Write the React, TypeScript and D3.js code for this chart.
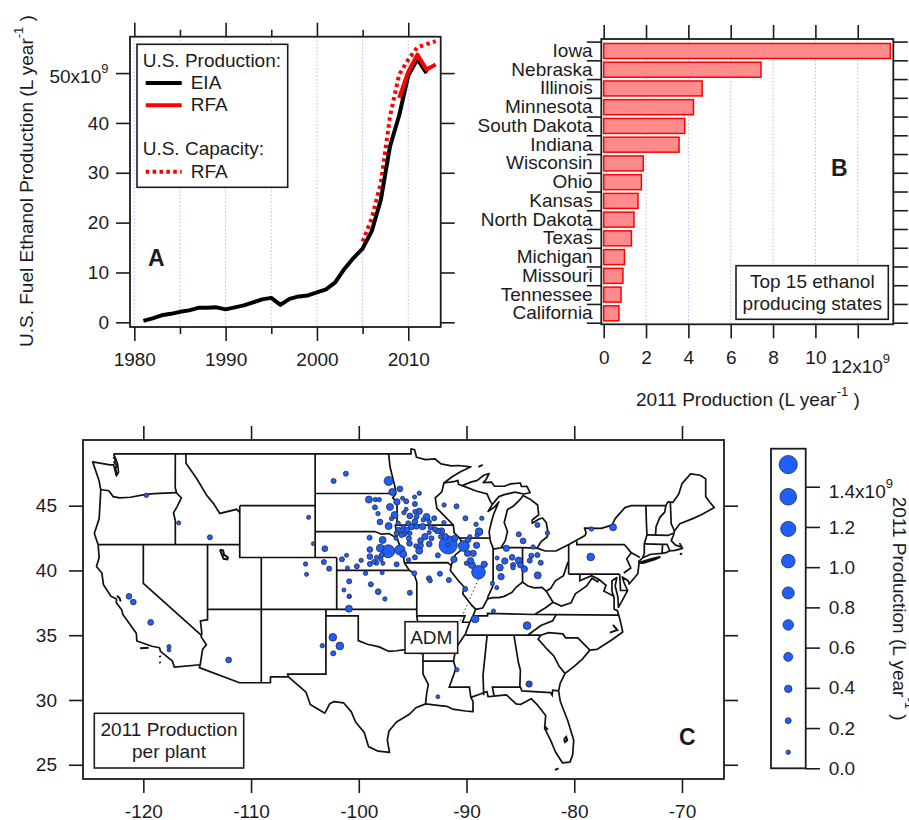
import React, { useEffect, useRef } from "react";
import * as d3 from "d3";

type Pt = [number, number];

// Panel A: U.S. production and capacity, 1e9 L per year
const eiaYears = [1981, 1982, 1983, 1984, 1985, 1986, 1987, 1988, 1989, 1990, 1991, 1992, 1993, 1994, 1995, 1996, 1997, 1998, 1999, 2000, 2001, 2002, 2003, 2004, 2005, 2006, 2007, 2008, 2009, 2010, 2011, 2012];
const eiaValues = [0.3, 0.8, 1.4, 1.7, 2.1, 2.4, 2.9, 2.9, 3.0, 2.6, 3.0, 3.4, 4.0, 4.6, 4.9, 3.5, 4.7, 5.2, 5.4, 6.0, 6.6, 8.0, 10.7, 12.9, 14.8, 18.3, 24.6, 35.3, 41.5, 49.5, 52.8, 50.0];
const rfaYears = [2009, 2010, 2011, 2012, 2013];
const rfaValues = [45.0, 50.3, 53.7, 50.7, 51.7];
const capacityYears = [2005, 2006, 2007, 2008, 2009, 2010, 2011, 2012, 2013];
const capacityValues = [16.2, 20.9, 28.0, 41.3, 49.7, 52.7, 55.2, 55.8, 56.4];

// Panel B: top 15 states, 1e9 L
const states = ["Iowa", "Nebraska", "Illinois", "Minnesota", "South Dakota", "Indiana", "Wisconsin", "Ohio", "Kansas", "North Dakota", "Texas", "Michigan", "Missouri", "Tennessee", "California"];
const stateValues = [13.54, 7.43, 4.65, 4.24, 3.83, 3.56, 1.87, 1.78, 1.62, 1.43, 1.31, 0.98, 0.91, 0.82, 0.72];

// Panel C: size legend, 1e9 L
const legendValues = [0.08, 0.237, 0.395, 0.554, 0.713, 0.872, 1.03, 1.19, 1.35, 1.51];

// Plants: lon, lat, production (1e9 L)
const plants: [number, number, number][] = [
  [-119.72, 45.8, 0.08], [-116.72, 43.67, 0.05], [-113.82, 42.56, 0.15], [-121.33, 38.0, 0.22], [-120.93, 37.56, 0.22],
  [-119.32, 35.99, 0.22], [-117.62, 34.12, 0.05], [-117.62, 33.86, 0.02], [-112.08, 33.09, 0.22], [-104.66, 44.1, 0.05],
  [-104.23, 42.07, 0.02], [-103.15, 41.68, 0.22], [-104.94, 40.5, 0.08], [-104.85, 39.7, 0.05], [-103.24, 40.65, 0.15],
  [-102.75, 40.14, 0.15], [-102.41, 34.84, 0.42], [-101.76, 34.17, 0.42], [-102.37, 33.6, 0.15], [-103.39, 34.19, 0.08],
  [-101.2, 47.47, 0.15], [-102.34, 46.91, 0.15], [-101.57, 40.86, 0.15], [-101.14, 41.17, 0.05], [-99.78, 40.78, 0.08],
  [-101.05, 40.19, 0.05], [-100.18, 40.32, 0.15], [-100.89, 39.16, 0.15], [-101.38, 38.49, 0.05], [-100.89, 38.0, 0.08],
  [-100.89, 38.0, 0.02], [-100.92, 37.05, 0.35], [-98.88, 38.93, 0.15], [-98.2, 38.36, 0.22], [-97.58, 37.8, 0.08],
  [-99.37, 39.78, 0.08], [-97.83, 39.83, 0.05],
  [-97.23, 46.91, 0.56], [-96.89, 46.06, 0.35], [-96.18, 46.29, 0.22], [-99.06, 45.47, 0.35], [-98.47, 45.47, 0.08],
  [-98.1, 45.47, 0.08], [-96.46, 45.29, 0.28], [-97.11, 44.9, 0.35], [-95.94, 45.57, 0.05], [-95.6, 45.34, 0.15],
  [-94.82, 45.67, 0.05], [-94.39, 45.96, 0.08], [-94.79, 45.13, 0.15], [-98.5, 44.87, 0.15], [-98.22, 44.39, 0.08],
  [-96.68, 44.28, 0.35], [-96.96, 44.0, 0.08], [-98.04, 43.74, 0.22], [-95.6, 44.72, 0.05], [-95.81, 44.46, 0.08],
  [-94.79, 44.54, 0.08], [-94.39, 44.57, 0.28], [-95.26, 44.21, 0.22], [-93.71, 44.13, 0.35], [-94.64, 44.15, 0.15],
  [-93.0, 44.03, 0.15], [-92.1, 43.69, 0.08], [-97.23, 43.43, 0.35], [-96.34, 43.64, 0.08], [-95.41, 43.64, 0.15],
  [-94.79, 43.77, 0.22], [-94.02, 43.9, 0.08], [-93.46, 43.77, 0.08], [-95.87, 43.33, 0.08], [-95.1, 43.38, 0.28],
  [-94.64, 43.38, 0.15], [-94.08, 43.38, 0.28], [-93.34, 43.33, 0.15], [-92.94, 43.18, 0.15], [-92.69, 43.05, 0.22],
  [-92.32, 43.05, 0.28], [-95.56, 43.12, 0.22], [-96.31, 43.12, 0.22], [-96.49, 42.87, 0.15], [-95.78, 42.87, 0.28],
  [-96.03, 42.74, 0.15], [-95.26, 42.87, 0.08], [-95.35, 42.48, 0.15], [-95.29, 42.09, 0.22], [-96.55, 42.48, 0.05],
  [-97.79, 42.35, 0.35], [-99.0, 42.53, 0.15], [-93.86, 42.61, 0.28], [-93.25, 42.48, 0.15], [-93.46, 42.92, 0.05],
  [-94.27, 42.3, 0.22], [-93.46, 42.04, 0.22], [-94.7, 41.89, 0.08], [-94.27, 41.94, 0.22], [-94.39, 41.53, 0.35],
  [-94.79, 41.01, 0.15], [-92.41, 42.61, 0.08], [-91.98, 42.61, 0.28], [-91.7, 41.97, 1.51], [-91.7, 41.97, 0.05],
  [-91.08, 42.48, 0.28], [-90.25, 41.89, 0.76], [-89.69, 42.61, 0.05], [-89.84, 42.38, 0.22], [-89.07, 41.94, 0.28],
  [-89.38, 41.32, 0.28], [-89.91, 41.32, 0.28], [-89.63, 40.76, 0.28], [-90.0, 40.55, 0.08], [-89.5, 40.42, 0.35],
  [-88.89, 39.86, 1.03], [-88.36, 40.47, 0.28], [-91.17, 40.86, 0.28], [-92.66, 41.17, 0.15], [-95.38, 40.81, 0.08],
  [-96.18, 41.58, 0.69], [-95.87, 41.25, 0.35], [-97.27, 41.48, 0.97], [-98.01, 41.73, 0.42], [-98.97, 41.61, 0.22],
  [-97.88, 41.19, 0.15], [-98.97, 41.07, 0.22], [-98.35, 41.01, 0.08], [-98.6, 40.68, 0.08], [-97.95, 40.86, 0.08],
  [-98.97, 40.5, 0.15], [-98.38, 40.6, 0.15], [-97.76, 40.55, 0.05], [-96.49, 40.47, 0.15], [-94.85, 39.78, 0.15],
  [-95.26, 38.28, 0.15], [-93.49, 39.39, 0.15], [-93.37, 39.21, 0.08], [-92.47, 39.75, 0.15], [-91.64, 39.26, 0.15],
  [-90.12, 38.57, 0.15],
  [-89.2, 36.25, 0.42], [-87.5, 36.87, 0.05], [-84.38, 35.74, 0.42], [-90.9, 32.34, 0.08], [-92.66, 30.25, 0.02],
  [-84.19, 31.23, 0.28], [-84.25, 31.26, 0.05], [-78.47, 41.04, 0.42], [-78.41, 43.2, 0.08], [-76.4, 43.33, 0.35],
  [-85.15, 42.79, 0.15], [-84.75, 42.28, 0.22], [-83.42, 43.51, 0.15], [-82.49, 42.89, 0.08], [-83.82, 41.81, 0.08],
  [-86.3, 41.71, 0.28], [-87.16, 40.96, 0.05], [-86.45, 40.73, 0.28], [-85.77, 41.01, 0.22], [-85.15, 40.76, 0.35],
  [-85.68, 40.42, 0.15], [-85.68, 40.21, 0.08], [-85.0, 40.42, 0.22], [-84.63, 40.11, 0.28], [-86.91, 40.22, 0.35],
  [-86.79, 39.52, 0.28], [-87.59, 39.0, 0.08], [-87.19, 38.67, 0.05], [-84.13, 40.76, 0.15], [-83.98, 41.14, 0.15],
  [-83.42, 41.19, 0.15], [-83.11, 40.6, 0.15], [-83.39, 39.62, 0.35], [-90.93, 44.95, 0.15], [-92.08, 45.05, 0.08],
  [-90.1, 44.03, 0.15], [-88.58, 44.03, 0.08], [-89.11, 43.56, 0.08], [-88.83, 42.99, 0.42], [-89.02, 42.69, 0.08],
];

// Country outline, lon/lat, clockwise from the Washington border
const usOutline: Pt[] = [
  [-122.76, 49], [-95.15, 49], [-95.15, 49.38], [-94.82, 49.32], [-94.64, 48.74], [-93.8, 48.55], [-92.95, 48.62], [-92.37, 48.23], [-91.4, 48.07], [-90.75, 48.1], [-89.6, 48.0],
  [-90.6, 47.6], [-91.3, 47.25], [-92.1, 46.75], [-91.2, 46.85], [-90.8, 46.95], [-90.75, 46.65], [-90.4, 46.55], [-89.6, 46.82], [-89.0, 46.95], [-88.4, 47.35], [-87.9, 47.47], [-88.2, 47.0], [-88.45, 46.78], [-87.7, 46.82], [-87.4, 46.5], [-86.5, 46.5], [-85.9, 46.68], [-85.0, 46.75], [-84.9, 46.48], [-84.4, 46.5], [-84.1, 46.0], [-84.7, 45.9],
  [-85.5, 46.05], [-86.0, 45.95], [-86.5, 45.85], [-87.0, 45.7], [-87.6, 45.1], [-88.0, 44.55], [-87.4, 44.9], [-87.0, 45.3], [-87.5, 44.3], [-87.7, 43.7], [-87.9, 43.0], [-87.8, 42.3], [-87.5, 41.65], [-86.8, 41.75], [-86.4, 42.3], [-86.2, 43.0], [-86.5, 43.7], [-86.2, 44.7], [-85.6, 45.0], [-85.0, 45.5], [-84.75, 45.78],
  [-84.1, 45.5], [-83.4, 45.05], [-83.3, 44.3], [-83.9, 43.9], [-83.9, 43.65], [-83.3, 43.95], [-82.95, 44.05], [-82.6, 43.7], [-82.45, 43.0], [-82.5, 42.6], [-83.1, 42.2], [-83.45, 41.72], [-82.7, 41.5], [-81.7, 41.5], [-80.5, 42.0], [-79.0, 42.7], [-78.9, 42.9], [-79.05, 43.27], [-77.5, 43.25], [-76.5, 43.5], [-76.2, 44.0], [-75.3, 44.85], [-74.7, 45.0],
  [-71.5, 45.0], [-71.3, 45.3], [-70.85, 45.25], [-70.3, 45.9], [-70.0, 46.7], [-69.2, 47.45], [-68.3, 47.35], [-67.8, 47.07], [-67.8, 45.7], [-67.45, 45.3], [-67.0, 44.85], [-68.2, 44.3], [-69.0, 44.0], [-70.2, 43.6], [-70.7, 43.05], [-70.8, 42.7], [-71.0, 42.3], [-70.6, 41.95], [-70.0, 41.8], [-70.2, 42.07], [-69.95, 41.7], [-70.65, 41.55], [-71.2, 41.5], [-71.4, 41.4], [-71.85, 41.32], [-72.9, 41.25], [-73.65, 40.98], [-74.0, 40.7],
  [-74.0, 40.45], [-74.1, 39.75], [-74.9, 38.95], [-75.0, 39.2], [-75.55, 39.5], [-75.4, 39.1], [-75.05, 38.45], [-75.4, 37.9], [-75.9, 37.15], [-75.95, 37.95], [-76.2, 38.8], [-76.05, 39.45], [-76.5, 39.2], [-76.5, 38.4], [-76.3, 37.9], [-76.3, 37.0], [-76.0, 36.9], [-75.75, 36.2], [-75.5, 35.25], [-76.5, 34.65], [-77.9, 33.9], [-78.55, 33.85], [-79.2, 33.2], [-80.0, 32.6], [-80.85, 32.05], [-81.3, 31.3], [-81.45, 30.7], [-81.3, 29.9], [-80.6, 28.4], [-80.05, 26.9], [-80.15, 25.75], [-80.4, 25.2], [-81.1, 25.15], [-81.75, 26.0], [-82.2, 26.9], [-82.75, 27.8], [-82.65, 28.8], [-83.4, 29.6], [-84.0, 30.1], [-85.0, 29.65], [-85.4, 29.7], [-86.3, 30.4], [-87.5, 30.3], [-88.0, 30.25], [-88.1, 30.65], [-88.9, 30.4], [-89.6, 30.2], [-89.4, 29.9], [-89.4, 29.1], [-90.1, 29.15], [-91.3, 29.3], [-91.8, 29.5], [-92.3, 29.55], [-93.8, 29.7], [-94.7, 29.4], [-95.3, 28.9], [-96.5, 28.3], [-97.2, 27.6], [-97.35, 26.9], [-97.15, 25.95],
  [-98.2, 26.05], [-99.1, 26.4], [-99.5, 27.5], [-100.3, 28.3], [-100.7, 29.1], [-101.4, 29.77], [-102.3, 29.88], [-102.7, 29.7], [-103.15, 28.98], [-104.5, 29.65], [-104.9, 30.6], [-106.53, 31.78], [-108.2, 31.78], [-108.2, 31.33], [-111.07, 31.33], [-114.8, 32.5], [-114.72, 32.72], [-117.12, 32.53],
  [-117.3, 33.0], [-118.4, 33.75], [-118.5, 34.03], [-119.2, 34.15], [-120.6, 34.55], [-120.65, 35.15], [-121.9, 36.6], [-122.0, 36.95], [-122.5, 37.5], [-122.5, 37.8], [-123.0, 38.0], [-123.7, 38.9], [-123.85, 39.8], [-124.35, 40.3], [-124.1, 41.0], [-124.2, 42.0], [-124.55, 42.85], [-124.1, 44.0], [-123.95, 46.2], [-124.1, 46.9], [-124.7, 48.38], [-123.1, 48.15], [-122.75, 48.15], [-122.5, 47.3], [-122.3, 47.6], [-122.4, 48.25], [-122.76, 49],
];

const stateBorders: Pt[][] = [
  // Northwest
  [[-124.0, 46.25], [-123.2, 46.15], [-122.8, 45.7], [-122.2, 45.6], [-121.2, 45.65], [-119.9, 45.85], [-119.0, 45.93], [-116.92, 46.0]],
  [[-117.03, 49], [-117.04, 46.4], [-116.92, 46.0], [-116.47, 45.6], [-116.85, 44.95], [-117.2, 44.45], [-117.03, 43.85], [-117.03, 42]],
  [[-124.2, 42], [-111.05, 42]],
  [[-120, 42], [-120, 39], [-114.63, 35]],
  [[-114.04, 42], [-114.04, 36.2], [-114.7, 36.1], [-114.57, 35.15], [-114.63, 34.87], [-114.15, 34.27], [-114.5, 33.9], [-114.72, 32.72]],
  [[-114.04, 37], [-94.62, 37]],
  [[-109.05, 41], [-109.05, 31.33]],
  [[-111.05, 45], [-104.05, 45]],
  [[-111.05, 45], [-111.05, 41], [-102.05, 41]],
  [[-116.05, 49], [-116.04, 48.27], [-115.05, 47.1], [-114.12, 45.8], [-113.5, 45.18], [-112.9, 44.4], [-111.34, 44.72], [-111.05, 44.48]],
  [[-104.05, 49], [-104.05, 41]],
  // Plains
  [[-104.05, 45.94], [-96.56, 45.94]],
  [[-104.05, 43], [-98.5, 43], [-97.9, 42.8], [-97.2, 42.85], [-96.45, 42.49], [-96.1, 41.7], [-95.87, 41.2], [-95.77, 40.58], [-95.3, 40], [-94.9, 39.8], [-94.61, 39.1], [-94.62, 36.5]],
  [[-102.05, 41], [-102.05, 37]],
  [[-102.05, 40], [-95.3, 40]],
  [[-95.77, 40.58], [-91.73, 40.6], [-91.42, 40.38]],
  [[-97.23, 49], [-97.1, 48], [-96.6, 46.3], [-96.56, 45.94], [-96.85, 45.6], [-96.45, 45.3], [-96.45, 43.5], [-96.6, 43.5], [-96.45, 42.49]],
  [[-96.45, 43.5], [-91.22, 43.5]],
  // Mississippi river
  [[-92.1, 46.75], [-92.29, 46.07], [-92.9, 45.6], [-92.75, 44.8], [-91.22, 43.5], [-91.15, 42.9], [-90.65, 42.5], [-90.15, 41.8], [-91.05, 41.2], [-91.42, 40.38], [-91.5, 40.0], [-90.75, 39.2], [-90.2, 38.7], [-90.35, 38.2], [-89.5, 37.3], [-89.15, 37.0], [-89.4, 36.5], [-89.7, 36.0], [-90.1, 35.1], [-91.0, 34.0], [-91.2, 33.0], [-91.0, 32.4], [-91.6, 31.0], [-89.73, 31.0], [-89.6, 30.2]],
  // South central
  [[-94.62, 36.5], [-90.15, 36.5], [-90.37, 36.0], [-89.7, 36.0]],
  [[-94.62, 36.5], [-94.43, 35.4], [-94.48, 33.64], [-94.04, 33.55], [-94.04, 33.0], [-91.2, 33.0]],
  [[-94.04, 33.0], [-94.04, 32], [-93.55, 31.2], [-93.7, 30.5], [-93.8, 29.7]],
  [[-103.05, 37], [-103.05, 32], [-106.6, 32], [-106.53, 31.78]],
  [[-103.05, 36.5], [-100.05, 36.5], [-100.05, 34.58], [-99.2, 34.3], [-98.1, 34.1], [-97.2, 33.75], [-96.5, 33.8], [-95.5, 33.9], [-94.48, 33.64]],
  // Great Lakes and Ohio river
  [[-87.53, 41.7], [-87.53, 39.3], [-87.6, 38.7], [-88.0, 38.0], [-88.05, 37.8]],
  [[-89.15, 37.0], [-88.5, 37.1], [-88.05, 37.8], [-87.6, 37.9], [-87.0, 37.9], [-86.5, 38.0], [-85.8, 38.3], [-85.4, 38.7], [-84.8, 39.1], [-84.3, 38.8], [-83.7, 38.65], [-83.0, 38.7], [-82.6, 38.4], [-82.2, 38.6], [-81.75, 39.2], [-81.0, 39.6], [-80.6, 40.6], [-80.52, 40.64]],
  [[-84.8, 39.1], [-84.8, 41.76]],
  [[-86.8, 41.76], [-84.8, 41.76], [-83.45, 41.72]],
  [[-80.52, 39.72], [-80.52, 42.0]],
  [[-80.52, 39.72], [-75.79, 39.72]],
  [[-79.76, 42.25], [-79.76, 42.0], [-75.35, 42.0], [-74.7, 41.36], [-75.13, 40.9], [-74.75, 40.2], [-75.4, 39.8]],
  [[-74.7, 41.36], [-73.9, 41.0]],
  [[-90.65, 42.5], [-87.8, 42.5]],
  [[-90.4, 46.55], [-89.1, 46.13], [-88.1, 45.9], [-87.8, 45.35], [-87.6, 45.1]],
  // Southeast
  [[-89.4, 36.5], [-88.05, 36.5], [-88.05, 36.68], [-83.68, 36.6], [-81.68, 36.59], [-75.9, 36.55]],
  [[-90.1, 35], [-84.32, 35], [-83.1, 35.0], [-82.4, 35.2], [-81.05, 35.1], [-80.8, 34.8], [-79.67, 34.8], [-78.55, 33.85]],
  [[-81.68, 36.59], [-82.0, 36.12], [-83.1, 35.75], [-84.32, 35]],
  [[-82.6, 38.4], [-81.97, 37.54]],
  [[-83.68, 36.6], [-82.7, 37.1], [-81.97, 37.54], [-81.2, 37.25], [-80.3, 37.5], [-79.9, 38.2], [-79.2, 38.6], [-78.85, 38.8], [-78.35, 39.4], [-77.83, 39.13], [-77.72, 39.32]],
  [[-79.48, 39.72], [-79.48, 39.2], [-78.4, 39.6], [-77.72, 39.32], [-77.05, 38.85], [-77.25, 38.4], [-76.3, 38.0]],
  [[-75.79, 39.72], [-75.7, 38.46], [-75.05, 38.45]],
  [[-88.2, 35.0], [-88.1, 34.9], [-88.47, 31.9], [-88.4, 30.37]],
  [[-85.6, 35], [-85.18, 32.87], [-85.0, 32.3], [-85.05, 31.0]],
  [[-87.45, 30.35], [-87.6, 31.0], [-85.0, 31.0], [-84.86, 30.7], [-82.2, 30.57], [-82.05, 30.37], [-82.0, 30.75], [-81.45, 30.7]],
  [[-83.1, 35.0], [-83.35, 34.7], [-82.5, 33.9], [-81.9, 33.4], [-81.4, 32.6], [-80.85, 32.05]],
  // New England
  [[-73.35, 45], [-73.3, 43.6], [-73.25, 42.75], [-73.5, 42.05], [-73.5, 41.3], [-73.65, 41.0]],
  [[-73.5, 42.05], [-71.8, 42.02], [-71.38, 42.02], [-71.12, 41.5]],
  [[-73.25, 42.75], [-71.3, 42.7], [-70.8, 42.87]],
  [[-71.5, 45.0], [-71.6, 44.5], [-72.05, 44.1], [-72.4, 43.4], [-72.46, 42.73]],
  [[-71.08, 45.3], [-71.0, 43.6], [-70.7, 43.05]],
  [[-71.8, 42.02], [-71.85, 41.32]],
];

const islands: Pt[][] = [
  [[-112.9, 41.6], [-112.6, 41.55], [-112.5, 41.2], [-112.15, 41.0], [-112.2, 40.85], [-112.55, 40.9], [-112.7, 41.2], [-112.9, 41.6]],
  [[-122.8, 48.75], [-122.55, 48.55], [-122.7, 48.35], [-122.45, 48.1], [-122.6, 47.85], [-122.45, 47.45]],
  [[-122.45, 38.05], [-122.2, 37.85], [-122.1, 37.6]],
  [[-120.3, 34.0], [-119.5, 34.03]],
  [[-118.5, 33.4], [-118.4, 33.3]],
  [[-118.5, 32.95], [-118.4, 32.85]],
  [[-74.0, 40.6], [-73.0, 40.85], [-72.0, 41.05], [-72.5, 40.85], [-73.6, 40.58], [-74.0, 40.6]],
  [[-80.95, 26.95], [-80.75, 27.15], [-80.65, 26.9], [-80.85, 26.75], [-80.95, 26.95]],
  [[-81.8, 24.6], [-81.45, 24.72]],
  [[-88.9, 48.0], [-88.5, 48.15]],
  [[-70.2, 41.27], [-69.98, 41.28]],
  [[-82.7, 27.95], [-82.45, 27.7]],
  [[-76.4, 35.8], [-76.0, 35.4], [-76.7, 35.2]],
];

const INK = "#1c1c1c";
const FONT = "'Liberation Sans', Arial, sans-serif";
const GRID = "#b4b4ff";

const App = () => {
  const svgRef = useRef<SVGSVGElement | null>(null);

  useEffect(() => {
    if (!svgRef.current) return;
    const svg = d3.select(svgRef.current);
    svg.selectAll("*").remove();
    svg.attr("font-family", FONT).attr("font-size", 19).attr("fill", INK);

    const styleAxis = (g: any) => {
      g.select(".domain").remove();
      g.selectAll("line").attr("stroke", INK).attr("stroke-width", 1.6);
      g.selectAll("text").attr("font-family", FONT).attr("font-size", 19).attr("fill", INK);
    };
    const place = (x: number, y: number) => `translate(${x},${y})`;
    const frame = (x0: number, y0: number, x1: number, y1: number) =>
      svg.append("rect").attr("x", x0).attr("y", y0).attr("width", x1 - x0).attr("height", y1 - y0)
        .attr("fill", "none").attr("stroke", INK).attr("stroke-width", 1.8);
    const box = (x0: number, y0: number, x1: number, y1: number) =>
      svg.append("rect").attr("x", x0).attr("y", y0).attr("width", x1 - x0).attr("height", y1 - y0)
        .attr("fill", "#fff").attr("stroke", INK).attr("stroke-width", 1.6);
    const label = (x: number, y: number, s: string, anchor = "start") =>
      svg.append("text").attr("x", x).attr("y", y).attr("text-anchor", anchor).text(s);
    const panel = (x: number, y: number, s: string) =>
      svg.append("text").attr("x", x).attr("y", y).attr("font-size", 23).attr("font-weight", "bold").text(s);
    // text with a superscript, optional trailing text
    const sup = (t: any, base: string, power: string, tail = "", raise = 10) => {
      t.append("tspan").text(base);
      t.append("tspan").attr("dy", -raise).attr("font-size", 13).text(power);
      if (tail) t.append("tspan").attr("dy", raise).text(tail);
      return t;
    };

    // ---------- Panel A ----------
    const ax0 = 130, ax1 = 440.7, ay0 = 36.7, ay1 = 327;
    const xA = d3.scaleLinear().domain([1979.53, 2013.55]).range([ax0, ax1]);
    const yA = d3.scaleLinear().domain([-0.94, 57.3]).range([ay1, ay0]);
    const yearTicks = [1980, 1990, 2000, 2010];
    const minorYears = [1985, 1995, 2005];

    svg.append("g").selectAll("line").data([...yearTicks, ...minorYears]).enter().append("line")
      .attr("x1", (d) => xA(d)).attr("x2", (d) => xA(d)).attr("y1", ay0).attr("y2", ay1)
      .attr("stroke", GRID).attr("stroke-width", 1).attr("stroke-dasharray", "1.5,2");

    const drawSeries = (years: number[], vals: number[], color: string, dash?: string) => {
      const gen = d3.line<number>().x((_, i) => xA(years[i])).y((d) => yA(d)).curve(d3.curveLinear);
      svg.append("path").attr("d", gen(vals)).attr("fill", "none").attr("stroke", color)
        .attr("stroke-width", 4).attr("stroke-dasharray", dash ?? null).attr("stroke-linejoin", "round");
    };
    drawSeries(capacityYears, capacityValues, "#ff0000", "3.5,3.4");
    drawSeries(eiaYears, eiaValues, "#000000");
    drawSeries(rfaYears, rfaValues, "#ff0000");

    svg.append("g").attr("transform", place(0, ay1))
      .call(d3.axisBottom(xA).tickValues(yearTicks).tickFormat(d3.format("d") as any).tickSize(14).tickPadding(12))
      .call(styleAxis);
    svg.append("g").attr("transform", place(0, ay1))
      .call(d3.axisBottom(xA).tickValues(minorYears).tickFormat(() => "").tickSize(7)).call(styleAxis);
    svg.append("g").attr("transform", place(0, ay0))
      .call(d3.axisTop(xA).tickValues(yearTicks).tickFormat(() => "").tickSize(14)).call(styleAxis);
    svg.append("g").attr("transform", place(0, ay0))
      .call(d3.axisTop(xA).tickValues(minorYears).tickFormat(() => "").tickSize(7)).call(styleAxis);
    svg.append("g").attr("transform", place(ax0, 0))
      .call(d3.axisLeft(yA).tickValues([0, 10, 20, 30, 40, 50]).tickFormat((d: any) => (d === 50 ? "" : String(d))).tickSize(14).tickPadding(7))
      .call(styleAxis);
    svg.append("g").attr("transform", place(ax1, 0))
      .call(d3.axisRight(yA).tickValues([0, 10, 20, 30, 40, 50]).tickFormat(() => "").tickSize(14)).call(styleAxis);
    sup(label(108.5, 83, "", "end"), "50x10", "9");
    frame(ax0, ay0, ax1, ay1);

    sup(svg.append("text").attr("transform", "translate(33,347) rotate(-90)"), "U.S. Fuel Ethanol Production (L year", "-1", " )");

    box(137, 44.3, 287.7, 187.3);
    label(142.7, 66.7, "U.S. Production:");
    label(190.7, 89, "EIA");
    label(190.7, 111, "RFA");
    label(142.7, 155.3, "U.S. Capacity:");
    label(190.7, 177.7, "RFA");
    const legendLine = (y: number, color: string, dash?: string) =>
      svg.append("line").attr("x1", 145.7).attr("x2", 181.7).attr("y1", y).attr("y2", y)
        .attr("stroke", color).attr("stroke-width", 4).attr("stroke-dasharray", dash ?? null);
    legendLine(83, "#000");
    legendLine(105.3, "#ff0000");
    legendLine(171.7, "#ff0000", "3.5,3.4");
    panel(148, 266, "A");

    // ---------- Panel B ----------
    const bx0 = 601.3, bx1 = 893.3, by0 = 39, by1 = 324.3;
    const xB = d3.scaleLinear().domain([-0.113, 13.68]).range([bx0, bx1]);
    const yB = d3.scaleBand<string>().domain(states).range([41.6, 322.7]).paddingInner(0.2).paddingOuter(0.1);
    const prodTicks = [0, 2, 4, 6, 8, 10, 12];

    svg.append("g").selectAll("line").data(prodTicks).enter().append("line")
      .attr("x1", (d) => xB(d)).attr("x2", (d) => xB(d)).attr("y1", by0).attr("y2", by1)
      .attr("stroke", GRID).attr("stroke-width", 1).attr("stroke-dasharray", "1.5,2");

    svg.append("g").selectAll("rect").data(states).enter().append("rect")
      .attr("x", xB(0)).attr("y", (d) => yB(d) as number)
      .attr("width", (_, i) => xB(stateValues[i]) - xB(0)).attr("height", yB.bandwidth())
      .attr("fill", "#ff8c8c").attr("stroke", "#ff0000").attr("stroke-width", 1.5);

    const edgeScale = d3.scaleLinear().domain([0, states.length]).range([41.6, 322.7]);
    const edges = d3.range(states.length + 1);
    svg.append("g").attr("transform", place(bx0, 0))
      .call(d3.axisLeft(edgeScale).tickValues(edges).tickFormat(() => "").tickSize(14.5)).call(styleAxis);
    svg.append("g").attr("transform", place(bx1, 0))
      .call(d3.axisRight(edgeScale).tickValues(edges).tickFormat(() => "").tickSize(14.5)).call(styleAxis);
    svg.append("g").attr("transform", place(0, by1))
      .call(d3.axisBottom(xB).tickValues(prodTicks).tickFormat((d: any) => (d === 12 ? "" : String(d))).tickSize(14).tickPadding(12.5))
      .call(styleAxis);
    svg.append("g").attr("transform", place(0, by0))
      .call(d3.axisTop(xB).tickValues(prodTicks).tickFormat(() => "").tickSize(14)).call(styleAxis);
    frame(bx0, by0, bx1, by1);

    svg.append("g").selectAll("text").data(states).enter().append("text")
      .attr("x", 592.7).attr("y", (d) => (yB(d) as number) + yB.bandwidth() / 2 + 6)
      .attr("text-anchor", "end").text((d) => d);

    sup(label(831, 372.7, ""), "12x10", "9");
    sup(label(636, 406, ""), "2011 Production (L year", "-1", " )");
    box(736, 265.7, 888.3, 319.3);
    label(812.3, 288, "Top 15 ethanol", "middle");
    label(812.3, 310, "producing states", "middle");
    panel(831, 176, "B");

    // ---------- Panel C ----------
    const cx0 = 83, cx1 = 724, cy0 = 440, cy1 = 779;
    const xC = d3.scaleLinear().domain([-125.6, -66.1]).range([cx0, cx1]);
    const yC = d3.scaleLinear().domain([23.9, 50.07]).range([cy1, cy0]);
    const radius = d3.scaleLinear().domain([0.08, 1.51]).range([2.2, 9.1]);
    const lonTicks = [-120, -110, -100, -90, -80, -70];
    const latTicks = [25, 30, 35, 40, 45];

    const geoLine = d3.line<Pt>().x((d) => xC(d[0])).y((d) => yC(d[1]));
    svg.append("path").attr("d", geoLine(usOutline)).attr("fill", "none").attr("stroke", "#111")
      .attr("stroke-width", 1.7).attr("stroke-linejoin", "round");
    svg.append("g").selectAll("path").data(stateBorders).enter().append("path")
      .attr("d", (d) => geoLine(d)).attr("fill", "none").attr("stroke", "#111").attr("stroke-width", 1.7);
    svg.append("g").selectAll("path").data(islands).enter().append("path")
      .attr("d", (d) => geoLine(d)).attr("fill", "none").attr("stroke", "#111").attr("stroke-width", 2);

    const bubble = (sel: any) =>
      sel.attr("fill", "#1f5fff").attr("stroke", "#2a2a3a").attr("stroke-width", 0.8);
    bubble(svg.append("g").selectAll("circle").data([...plants].sort((a, b) => b[2] - a[2])).enter().append("circle")
      .attr("cx", (d: any) => xC(d[0])).attr("cy", (d: any) => yC(d[1])).attr("r", (d: any) => radius(d[2])));

    // dotted leader from the ADM Decatur plant to its label
    svg.append("line").attr("x1", xC(-88.89)).attr("y1", yC(39.86) + 7).attr("x2", 460).attr("y2", 621)
      .attr("stroke", "#333").attr("stroke-width", 1).attr("stroke-dasharray", "1.5,2.5");
    box(405, 621.7, 457.7, 653.3);
    label(431.3, 644.3, "ADM", "middle");

    svg.append("g").attr("transform", place(0, cy1))
      .call(d3.axisBottom(xC).tickValues(lonTicks).tickFormat((d: any) => String(d)).tickSize(14).tickPadding(11.5))
      .call(styleAxis);
    svg.append("g").attr("transform", place(0, cy0))
      .call(d3.axisTop(xC).tickValues(lonTicks).tickFormat(() => "").tickSize(14)).call(styleAxis);
    svg.append("g").attr("transform", place(cx0, 0))
      .call(d3.axisLeft(yC).tickValues(latTicks).tickFormat((d: any) => String(d)).tickSize(14).tickPadding(12))
      .call(styleAxis);
    svg.append("g").attr("transform", place(cx1, 0))
      .call(d3.axisRight(yC).tickValues(latTicks).tickFormat(() => "").tickSize(14)).call(styleAxis);
    frame(cx0, cy0, cx1, cy1);

    box(94.3, 713.3, 243.7, 768);
    label(169, 736, "2011 Production", "middle");
    label(169, 758.3, "per plant", "middle");
    panel(679, 745, "C");

    // Size legend
    const lx0 = 771, lx1 = 805.7, ly0 = 448.7, ly1 = 768.3;
    const yL = d3.scaleLinear().domain([0, 1.4]).range([ly1, 486.7]);
    const legendTicks = [0, 0.2, 0.4, 0.6, 0.8, 1.0, 1.2, 1.4];
    bubble(svg.append("g").selectAll("circle").data(legendValues).enter().append("circle")
      .attr("cx", (lx0 + lx1) / 2 - 0.1).attr("cy", (d: any) => yL(d)).attr("r", (d: any) => radius(d)));
    svg.append("g").attr("transform", place(lx1, 0))
      .call(d3.axisRight(yL).tickValues(legendTicks).tickFormat((d: any) => (d === 1.4 ? "" : d3.format(".1f")(d))).tickSize(14.3).tickPadding(8.7))
      .call(styleAxis);
    frame(lx0, ly0, lx1, ly1);
    sup(label(828.7, 498.3, ""), "1.4x10", "9");
    // the superscript runs off the right edge in the reference too
    sup(svg.append("text").attr("transform", "translate(893,496.7) rotate(90)"), "2011 Production (L year", "-1", " )", 12);
  }, []);

  return (
    <svg
      ref={svgRef}
      width={909}
      height={820}
      style={{ position: "absolute", left: 0, top: 0, background: "#fff" }}
    />
  );
};

export default App;
